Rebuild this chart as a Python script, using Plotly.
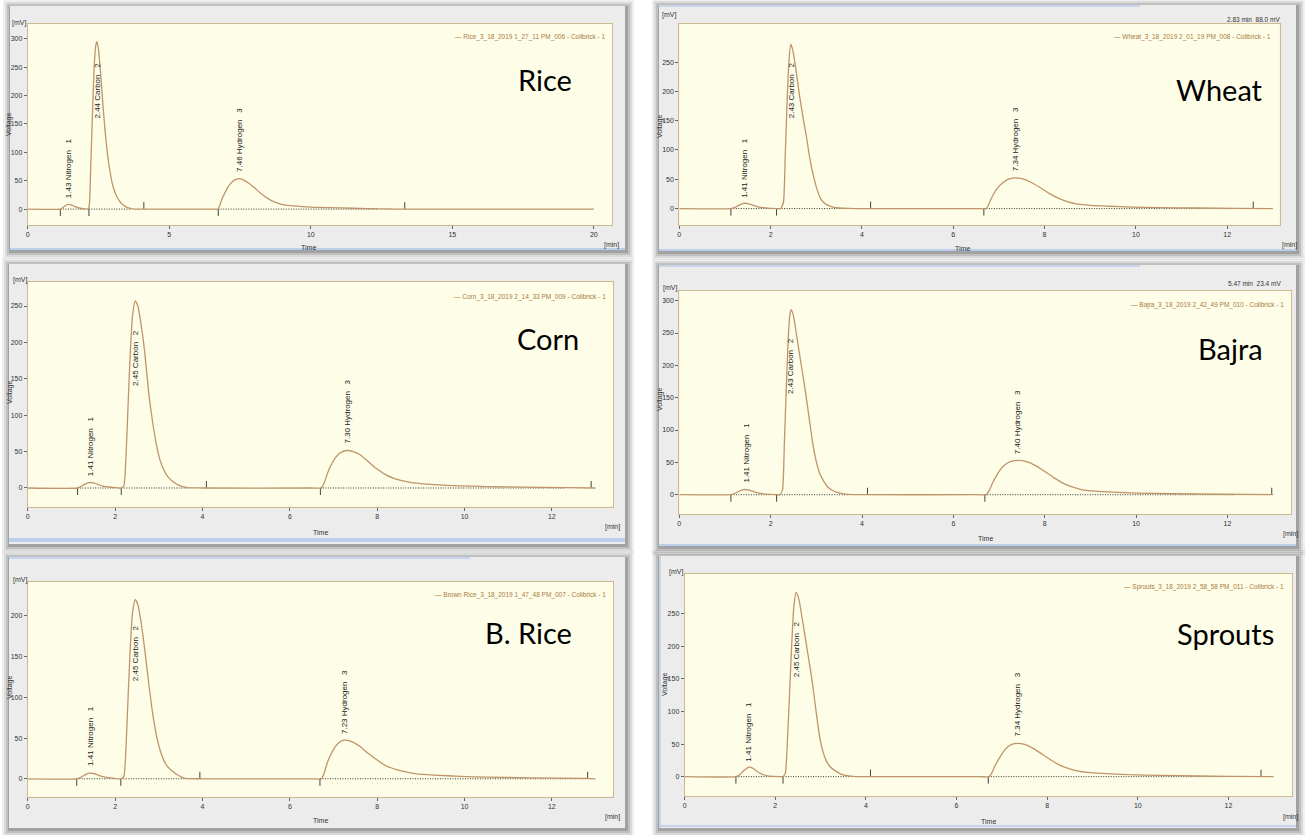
import plotly.graph_objects as go

W, H = 1306, 835

# ---------------- data ----------------
panel_names = ["Rice", "Wheat", "Corn", "Bajra", "B. Rice", "Sprouts"]
legend_names = [
    "Rice_3_18_2019 1_27_11 PM_006 - Colibrick - 1",
    "Wheat_3_18_2019 2_01_19 PM_008 - Colibrick - 1",
    "Corn_3_18_2019 2_14_33 PM_009 - Colibrick - 1",
    "Bajra_3_18_2019 2_42_49 PM_010 - Colibrick - 1",
    "Brown Rice_3_18_2019 1_47_48 PM_007 - Colibrick - 1",
    "Sprouts_3_18_2019 2_58_58 PM_011 - Colibrick - 1",
]
cursor_readouts = ["", "2.83 min  88.0 mV", "", "5.47 min  23.4 mV", "", ""]
peak_names = ["Nitrogen", "Carbon", "Hydrogen"]

# Rice
rice_t = [0, 1.15, 1.22, 1.32, 1.43, 1.52, 1.62, 1.72, 1.85, 2.0, 2.12,
          2.17, 2.22, 2.28, 2.34, 2.40, 2.44, 2.50, 2.58, 2.66, 2.74, 2.82, 2.90, 3.0, 3.1, 3.2, 3.35, 3.5, 3.7, 4.0,
          6.5, 6.72, 6.78, 6.86, 6.95, 7.05, 7.15, 7.3, 7.46, 7.6, 7.8, 8.0, 8.25, 8.5, 8.75, 9.0, 9.3, 9.7, 10.2,
          11.0, 12.0, 12.4, 13.0, 20.0]
rice_v = [0, 0, 2, 6, 8.2, 7.5, 5.5, 3.5, 1.5, 0.5, 0,
          5, 70, 160, 245, 288, 295, 280, 235, 180, 133, 95, 68, 42, 27, 17, 8, 3, 0.5, 0,
          0, 0, 6, 18, 27, 37, 44, 51, 53.5, 52, 46, 38, 27, 18, 12, 8, 6, 4.5, 3,
          2, 1, 0.5, 0, 0]
rice_rt = [1.43, 2.44, 7.46]
rice_label_x = [1.44, 2.48, 7.50]
rice_label_y = [15, 156, 62]
rice_baselines = [(1.15, 1.98), (2.16, 3.63), (6.73, 12.36)]
rice_events_low = [1.15, 2.16, 6.73]
rice_events_high = [4.10, 13.32]
rice_xticks = [0, 5, 10, 15, 20]
rice_yticks = [0, 50, 100, 150, 200, 250, 300]

# Wheat
wheat_t = [0, 1.13, 1.2, 1.3, 1.41, 1.5, 1.6, 1.7, 1.8, 1.9, 2.0, 2.15,
           2.22, 2.28, 2.32, 2.36, 2.40, 2.44, 2.48, 2.55, 2.62, 2.70, 2.78, 2.86, 2.94, 3.02, 3.1, 3.2, 3.35, 3.5, 3.7, 4.0,
           6.5, 6.72, 6.76, 6.82, 6.9, 7.0, 7.1, 7.2, 7.34, 7.5, 7.7, 7.9, 8.1, 8.3, 8.5, 8.7, 9.0, 9.4, 9.9, 10.5,
           11.3, 12.2, 13.0]
wheat_v = [0, 0, 1.5, 5.5, 9, 8.5, 6, 3.5, 2, 1, 0.4, 0,
           0, 10, 90, 180, 250, 280, 272, 240, 200, 160, 125, 85, 55, 32, 16, 8, 3, 1, 0.3, 0,
           0, 0, 4, 15, 27, 38, 45, 50, 52.5, 51, 45, 36, 26, 18, 12, 8, 5.5, 4, 2.5, 1.5,
           1, 0.3, 0]
wheat_rt = [1.41, 2.43, 7.34]
wheat_label_x = [1.44, 2.45, 7.37]
wheat_label_y = [15, 151, 60]
wheat_baselines = [(1.13, 2.0), (2.13, 3.67), (6.67, 12.15)]
wheat_events_low = [1.13, 2.13, 6.67]
wheat_events_high = [4.19, 12.57]
wheat_xticks = [0, 2, 4, 6, 8, 10, 12]
wheat_yticks = [0, 50, 100, 150, 200, 250]

# Corn
corn_t = [0, 1.14, 1.2, 1.3, 1.41, 1.5, 1.6, 1.7, 1.8, 1.9, 2.0, 2.14,
          2.2, 2.25, 2.3, 2.35, 2.4, 2.46, 2.52, 2.6, 2.68, 2.77, 2.86, 2.95, 3.03, 3.12, 3.2, 3.3, 3.45, 3.65, 4.0,
          6.5, 6.72, 6.78, 6.86, 6.95, 7.05, 7.15, 7.3, 7.45, 7.6, 7.8, 8.0, 8.2, 8.4, 8.7, 9.0, 9.3, 9.9, 10.5,
          11.3, 12.3, 13.0]
corn_v = [0, 0, 1.5, 5, 7.5, 7, 5, 3, 1.8, 1, 0.4, 0,
          3, 45, 120, 190, 238, 257, 250, 222, 185, 130, 90, 58, 38, 24, 16, 10, 4, 0.5, 0,
          0, 0, 6, 20, 32, 42, 48, 51.5, 50, 46, 36, 26, 18, 13, 8.5, 6, 4.5, 3, 2,
          1.2, 0.5, 0]
corn_rt = [1.41, 2.45, 7.30]
corn_label_x = [1.44, 2.47, 7.32]
corn_label_y = [13, 137, 59]
corn_baselines = [(1.14, 2.0), (2.14, 3.67), (6.70, 12.30)]
corn_events_low = [1.14, 2.14, 6.70]
corn_events_high = [4.09, 12.90]
corn_xticks = [0, 2, 4, 6, 8, 10, 12]
corn_yticks = [0, 50, 100, 150, 200, 250]

# Bajra
bajra_t = [0, 1.13, 1.2, 1.3, 1.41, 1.5, 1.6, 1.7, 1.8, 1.9, 2.0, 2.13,
           2.2, 2.26, 2.3, 2.34, 2.38, 2.42, 2.45, 2.5, 2.56, 2.63, 2.7, 2.77, 2.85, 2.92, 2.99, 3.08, 3.17, 3.25, 3.4, 3.7, 4.0,
           6.5, 6.72, 6.78, 6.85, 6.92, 7.02, 7.12, 7.25, 7.42, 7.6, 7.8, 8.0, 8.2, 8.4, 8.6, 8.8, 9.1, 9.5, 10.0,
           10.8, 11.8, 13.0]
bajra_v = [0, 0, 1.5, 5, 8, 7.5, 5.5, 3.2, 1.8, 1, 0.4, 0,
           0, 8, 80, 160, 235, 278, 286, 276, 250, 218, 187, 155, 115, 80, 54, 32, 20, 12, 5, 0.5, 0,
           0, 0, 6, 17, 26.5, 38, 46, 51, 53, 51, 45, 36, 26.5, 18, 12, 8, 5.5, 4, 2.5,
           1.5, 0.7, 0]
bajra_rt = [1.41, 2.43, 7.40]
bajra_label_x = [1.45, 2.45, 7.42]
bajra_label_y = [15, 153, 60]
bajra_baselines = [(1.13, 2.0), (2.13, 3.70), (6.69, 12.15)]
bajra_events_low = [1.13, 2.13, 6.69]
bajra_events_high = [4.12, 12.97]
bajra_xticks = [0, 2, 4, 6, 8, 10, 12]
bajra_yticks = [0, 50, 100, 150, 200, 250, 300]

# Brown rice
brice_t = [0, 1.12, 1.2, 1.3, 1.41, 1.5, 1.6, 1.7, 1.8, 1.9, 2.0, 2.13,
           2.2, 2.25, 2.3, 2.35, 2.4, 2.46, 2.52, 2.6, 2.68, 2.77, 2.86, 2.95, 3.03, 3.12, 3.2, 3.3, 3.45, 3.6, 4.0,
           6.5, 6.72, 6.78, 6.86, 6.95, 7.05, 7.15, 7.24, 7.4, 7.6, 7.8, 8.0, 8.2, 8.4, 8.6, 8.9, 9.3, 9.9, 10.5,
           11.5, 12.8, 13.0]
brice_v = [0, 0, 1.5, 4.5, 7, 6.5, 4.8, 3, 1.8, 1, 0.4, 0,
           3, 40, 105, 165, 205, 220, 214, 190, 158, 117, 80, 52, 35, 22, 15, 10, 4, 0.5, 0,
           0, 0, 6, 20, 31, 40, 45.5, 47.5, 46, 40, 31, 23, 16, 12, 9, 6, 4.5, 3, 2,
           1.2, 0.5, 0]
brice_rt = [1.41, 2.45, 7.23]
brice_label_x = [1.44, 2.47, 7.25]
brice_label_y = [13, 117, 53]
brice_baselines = [(1.12, 2.0), (2.13, 3.60), (6.69, 12.82)]
brice_events_low = [1.12, 2.13, 6.69]
brice_events_high = [3.94, 12.82]
brice_xticks = [0, 2, 4, 6, 8, 10, 12]
brice_yticks = [0, 50, 100, 150, 200]

# Sprouts
sprouts_t = [0, 1.13, 1.2, 1.3, 1.42, 1.5, 1.6, 1.7, 1.8, 1.95, 2.1,
             2.17, 2.22, 2.27, 2.31, 2.36, 2.41, 2.46, 2.52, 2.6, 2.68, 2.75, 2.82, 2.9, 2.97, 3.04, 3.12, 3.2, 3.3, 3.45, 3.7, 4.0,
             6.5, 6.72, 6.78, 6.85, 6.92, 7.02, 7.12, 7.22, 7.34, 7.5, 7.7, 7.9, 8.08, 8.3, 8.5, 8.66, 8.9, 9.2, 9.8, 10.5,
             11.3, 12.0, 13.0]
sprouts_v = [0, 0, 2, 9, 14.5, 13, 8, 4, 1.5, 0.3, 0,
             0, 5, 60, 120, 200, 262, 283, 272, 240, 205, 175, 143, 100, 65, 41, 25, 16, 10, 4, 0.5, 0,
             0, 0, 6, 17, 25.5, 37, 45, 49.5, 51, 49.5, 43, 34, 25.5, 17, 12, 9, 6.5, 5, 3, 2,
             1, 0.5, 0]
sprouts_rt = [1.41, 2.45, 7.34]
sprouts_label_x = [1.42, 2.47, 7.34]
sprouts_label_y = [20, 149, 59]
sprouts_baselines = [(1.13, 2.0), (2.17, 3.70), (6.70, 12.0)]
sprouts_events_low = [1.13, 2.17, 6.70]
sprouts_events_high = [4.10, 12.72]
sprouts_xticks = [0, 2, 4, 6, 8, 10, 12]
sprouts_yticks = [0, 50, 100, 150, 200, 250]

series = [
    (rice_t, rice_v, rice_rt, rice_label_x, rice_label_y, rice_baselines, rice_events_low, rice_events_high, rice_xticks, rice_yticks),
    (wheat_t, wheat_v, wheat_rt, wheat_label_x, wheat_label_y, wheat_baselines, wheat_events_low, wheat_events_high, wheat_xticks, wheat_yticks),
    (corn_t, corn_v, corn_rt, corn_label_x, corn_label_y, corn_baselines, corn_events_low, corn_events_high, corn_xticks, corn_yticks),
    (bajra_t, bajra_v, bajra_rt, bajra_label_x, bajra_label_y, bajra_baselines, bajra_events_low, bajra_events_high, bajra_xticks, bajra_yticks),
    (brice_t, brice_v, brice_rt, brice_label_x, brice_label_y, brice_baselines, brice_events_low, brice_events_high, brice_xticks, brice_yticks),
    (sprouts_t, sprouts_v, sprouts_rt, sprouts_label_x, sprouts_label_y, sprouts_baselines, sprouts_events_low, sprouts_events_high, sprouts_xticks, sprouts_yticks),
]
for s in series:
    assert len(s[0]) == len(s[1])

# ---------------- layout (pixels) ----------------
plot_boxes = [  # x0, y0, x1, y1 of cream plot area
    (27.8, 24, 612.2, 225),
    (679.3, 24, 1279.7, 225),
    (27.8, 282, 613, 506.7),
    (679.3, 290.7, 1291.4, 514),
    (27.8, 581.7, 613, 796.7),
    (684.7, 574, 1292.3, 796),
]
x_ranges = [[0, 20.65], [0, 13.15], [0, 13.4], [0, 13.4], [0, 13.4], [0, 13.41]]
y_ranges = [[-28, 326], [-28, 315], [-25.7, 283], [-29.8, 315.4], [-22, 242], [-29.7, 311]]
windows = [(10, 6, 625, 250), (659, 5, 1296, 251), (9, 264, 625, 544),
           (659, 265, 1296, 546), (9, 557, 625, 828), (659, 556, 1296, 828)]
big_label_pos = [(545, 79), (1219, 89), (548, 338), (1230, 349), (528, 632), (1225, 633)]
legend_pos = [(608, 37), (1273, 37), (608, 297), (1286, 305), (608, 595), (1286, 587)]
readout_pos = [None, (1282, 19), None, (1283, 283), None, None]
mv_pos = [(19, 23), (669, 15), (20, 280), (670, 288), (20, 580), (676, 572)]
min_pos = [(611, 245), (1289, 245), (612, 527), (1290, 534), (612, 817), (1290, 817)]
time_pos = [(308, 247), (962, 248), (320, 532), (985, 538), (320, 820), (988, 821)]
volt_pos = [(9, 125), (660, 127), (10, 393), (660, 400), (10, 688), (665, 685)]

CREAM = "#fefde7"
BORDER = "#cfb890"
LINE = "#bf946a"
LEGEND_C = "#a87a45"
TXT = "#333333"
SMALL = dict(family="Liberation Sans Narrow, Liberation Sans, Arial", size=7, color=TXT)


def px(x):
    return x / W


def py(y):
    return 1 - y / H


fig = go.Figure()
shapes = []
annotations = []
layout_axes = {}

# window frames with soft shadows
for (x0, y0, x1, y1) in windows:
    for d, op in [(8, 0.10), (6, 0.15), (4, 0.22), (2, 0.32)]:
        shapes.append(dict(type="rect", xref="paper", yref="paper", layer="below",
                           x0=px(x0 - d + 1), x1=px(x1 + d + 1), y0=py(y0 - d + 2), y1=py(y1 + d + 1),
                           fillcolor=f"rgba(100,100,100,{op})", line=dict(width=0)))
    shapes.append(dict(type="rect", xref="paper", yref="paper", layer="below",
                       x0=px(x0), x1=px(x1), y0=py(y0), y1=py(y1),
                       fillcolor="#ececec", line=dict(width=0)))

# light blue window strips
blue_lines = [((10, 249), (625, 249), 2), ((659, 250), (1296, 250), 2), ((659, 6), (1140, 6), 1.5),
              ((9, 540), (625, 540), 4), ((659, 266), (1140, 266), 1.5), ((659, 545), (1296, 545), 2),
              ((9, 558), (470, 558), 1.5), ((660, 556), (660, 828), 1.5), ((659, 826), (1296, 826), 1.5)]
for (a, b, w) in blue_lines:
    shapes.append(dict(type="line", xref="paper", yref="paper", layer="below",
                       x0=px(a[0]), y0=py(a[1]), x1=px(b[0]), y1=py(b[1]),
                       line=dict(color="#b9cfea", width=w)))

for i, (t, v, rt, lx, ly, bases, ev_lo, ev_hi, xt, yt) in enumerate(series):
    n = i + 1
    xa = "x" if n == 1 else f"x{n}"
    ya = "y" if n == 1 else f"y{n}"
    bx0, by0, bx1, by1 = plot_boxes[i]
    layout_axes["xaxis" if n == 1 else f"xaxis{n}"] = dict(
        domain=[px(bx0), px(bx1)], anchor=ya, range=x_ranges[i], tickvals=xt, automargin=False,
        showgrid=False, zeroline=False, showline=True, mirror=True, linecolor=BORDER, linewidth=1,
        ticks="outside", ticklen=3, tickcolor="#666", tickfont=SMALL, fixedrange=True)
    layout_axes["yaxis" if n == 1 else f"yaxis{n}"] = dict(
        domain=[py(by1), py(by0)], anchor=xa, range=y_ranges[i], tickvals=yt, automargin=False,
        showgrid=False, zeroline=False, showline=True, mirror=True, linecolor=BORDER, linewidth=1,
        ticks="outside", ticklen=3, tickcolor="#666", tickfont=SMALL, fixedrange=True)

    # cream plot area
    shapes.append(dict(type="rect", xref=f"{xa} domain", yref=f"{ya} domain", layer="below",
                       x0=0, x1=1, y0=0, y1=1, fillcolor=CREAM, line=dict(width=0)))

    # integration baselines (dotted)
    bxs, bys = [], []
    for (a, b) in bases:
        bxs += [a, b, None]
        bys += [0, 0, None]
    fig.add_trace(go.Scatter(x=bxs, y=bys, xaxis=xa, yaxis=ya, mode="lines",
                             line=dict(color="#333333", width=1, dash="1px,1.5px"),
                             hoverinfo="skip", showlegend=False))

    # event tick marks
    ylen = (y_ranges[i][1] - y_ranges[i][0]) * 7.0 / (by1 - by0)
    exs, eys = [], []
    for e in ev_lo:
        exs += [e, e, None]
        eys += [0, -ylen, None]
    for e in ev_hi:
        exs += [e, e, None]
        eys += [0, ylen, None]
    fig.add_trace(go.Scatter(x=exs, y=eys, xaxis=xa, yaxis=ya, mode="lines",
                             line=dict(color="#444444", width=1),
                             hoverinfo="skip", showlegend=False))

    # chromatogram signal
    fig.add_trace(go.Scatter(x=t, y=v, xaxis=xa, yaxis=ya, mode="lines",
                             line=dict(color=LINE, width=1.3, shape="spline", smoothing=0.5),
                             name=legend_names[i], showlegend=False))

    # peak labels
    for k in range(3):
        annotations.append(dict(
            x=lx[k], y=ly[k], xref=xa, yref=ya, showarrow=False, textangle=-90,
            xanchor="center", yanchor="bottom",
            text=f"{rt[k]:.2f} {peak_names[k]}\u00a0\u00a0\u00a0{k + 1}",
            font=dict(family="Liberation Sans, Arial", size=8, color="#222222")))

    # sample name
    bl = big_label_pos[i]
    annotations.append(dict(x=px(bl[0]), y=py(bl[1]), xref="paper", yref="paper", showarrow=False,
                            xanchor="center", yanchor="middle", text=panel_names[i],
                            font=dict(family="Lato, Open Sans, Arial", size=29, color="#000000")))
    # legend string
    lp = legend_pos[i]
    annotations.append(dict(x=px(lp[0]), y=py(lp[1]), xref="paper", yref="paper", showarrow=False,
                            xanchor="right", yanchor="middle", text="\u2014 " + legend_names[i],
                            font=dict(family="Liberation Sans Narrow, Liberation Sans, Arial", size=6.5, color=LEGEND_C)))
    if readout_pos[i] is not None:
        rp = readout_pos[i]
        annotations.append(dict(x=px(rp[0]), y=py(rp[1]), xref="paper", yref="paper", showarrow=False,
                                xanchor="right", yanchor="middle", text=cursor_readouts[i],
                                font=dict(family="Liberation Sans Narrow, Liberation Sans, Arial", size=6.5, color=TXT)))
    for pos, txt, ang in [(mv_pos[i], "[mV]", 0), (min_pos[i], "[min]", 0),
                          (time_pos[i], "Time", 0), (volt_pos[i], "Voltage", -90)]:
        annotations.append(dict(x=px(pos[0]), y=py(pos[1]), xref="paper", yref="paper", showarrow=False,
                                xanchor="center", yanchor="middle", text=txt, textangle=ang,
                                font=SMALL))

fig.update_layout(
    width=W, height=H, margin=dict(l=0, r=0, t=0, b=0, autoexpand=False),
    paper_bgcolor="white", plot_bgcolor="rgba(0,0,0,0)",
    shapes=shapes, annotations=annotations, showlegend=False,
    **layout_axes,
)

fig.write_html("out.html", config={"displayModeBar": False},
               post_script="document.body.style.margin='0px';document.body.style.overflow='hidden';")
